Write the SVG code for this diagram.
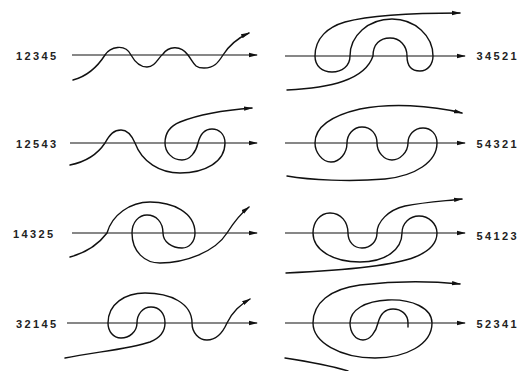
<svg xmlns="http://www.w3.org/2000/svg" width="519" height="371" viewBox="0 0 519 371">
<style>
.c{fill:none;stroke:#111;stroke-width:1.4;stroke-linecap:round;stroke-linejoin:round}
.ax{fill:none;stroke:#111;stroke-width:1.2}
.l{font-family:"Liberation Sans",Arial,sans-serif;font-size:11px;font-weight:bold;fill:#222;letter-spacing:2.4px}
</style>
<defs>
<marker id="ar" viewBox="0 0 9 6" refX="8" refY="3" markerWidth="9" markerHeight="6" markerUnits="userSpaceOnUse" orient="auto">
<path d="M0,0.8 L9,3 L0,5.2 z" fill="#111"/>
</marker>
</defs>
<rect width="519" height="371" fill="#fff"/>

<g id="p12345">
<line class="ax" x1="72" y1="55" x2="257" y2="55" marker-end="url(#ar)"/>
<path class="c" marker-end="url(#ar)" d="M73,80 C88,76 98,66 105,55 C110,47 125,43 131,55 C136,64 142,67 147,67 C155,67 158,58 163,54 C168,47 180,44 188,55 C194,63 194,68 204,68 C214,68 218,63 223,55 C230,44 238,38 249,33"/>
<text class="l" x="16" y="60">12345</text>
</g>

<g id="p34521">
<line class="ax" x1="285" y1="56" x2="465" y2="56" marker-end="url(#ar)"/>
<path class="c" marker-end="url(#ar)" d="M287,90 C330,88 365,80 373,56 C373,44 380,38 390,38 C400,38 407,46 407,56 C407,66 412,71 420,71 C428,71 433,64 433,56 C433,36 415,19 392,19 C368,19 350,36 350,56 C350,66 342,72 332,72 C322,72 315,66 315,56 C315,38 328,27 345,22 C375,14 420,13 460,13"/>
<text class="l" x="519" y="60" text-anchor="end">34521</text>
</g>

<g id="p12543">
<line class="ax" x1="70" y1="143" x2="257" y2="143" marker-end="url(#ar)"/>
<path class="c" marker-end="url(#ar)" d="M70,165 C85,162 97,155 105,143 C110,134 114,130 121,130 C128,130 132,136 135,143 C142,162 160,173 180,173 C205,173 225,162 225,143 C225,134 219,129 212,129 C204,129 200,135 198,143 C196,152 190,160 182,160 C172,160 165,152 165,143 C165,132 170,126 180,122 C200,114 225,110 252,108"/>
<text class="l" x="16" y="148">12543</text>
</g>

<g id="p54321">
<line class="ax" x1="285" y1="143" x2="465" y2="143" marker-end="url(#ar)"/>
<path class="c" marker-end="url(#ar)" d="M287,176 C310,180 350,182 385,179 C415,176 437,162 437,143 C437,134 431,128 423,128 C414,128 408,135 408,143 C408,152 400,160 392,160 C384,160 377,152 377,143 C377,134 371,127 362,127 C353,127 347,135 347,143 C347,153 340,162 331,162 C322,162 315,152 315,143 C315,128 330,116 360,109 C390,103 430,105 462,113"/>
<text class="l" x="519" y="148" text-anchor="end">54321</text>
</g>

<g id="p14325">
<line class="ax" x1="72" y1="233" x2="257" y2="233" marker-end="url(#ar)"/>
<path class="c" marker-end="url(#ar)" d="M70,257 C85,253 98,245 107,233 C112,215 130,202 150,202 C172,202 195,212 195,233 C195,242 189,248 182,248 C172,248 163,242 163,233 C163,222 156,215 147,215 C139,215 132,222 132,233 C132,252 145,263 160,263 C185,263 215,252 227,233 C234,222 240,214 249,207"/>
<text class="l" x="13" y="238">14325</text>
</g>

<g id="p54123">
<line class="ax" x1="285" y1="233" x2="465" y2="233" marker-end="url(#ar)"/>
<path class="c" marker-end="url(#ar)" d="M286,273 C330,271 390,267 415,257 C430,251 437,243 437,233 C437,224 429,216 419,216 C410,216 402,223 402,233 C402,250 385,262 360,262 C333,262 313,250 313,233 C313,222 320,213 330,213 C341,213 348,222 348,233 C348,242 354,248 362,248 C371,248 377,241 377,233 C377,222 388,210 405,206 C425,202 445,201 462,199"/>
<text class="l" x="519" y="240" text-anchor="end">54123</text>
</g>

<g id="p32145">
<line class="ax" x1="67" y1="323" x2="257" y2="323" marker-end="url(#ar)"/>
<path class="c" marker-end="url(#ar)" d="M65,358 C95,352 130,349 150,342 C160,338 165,332 165,323 C165,313 159,307 151,307 C143,307 137,314 137,323 C137,332 129,338 121,338 C113,338 108,331 108,323 C108,304 125,293 145,293 C170,293 192,303 192,323 C192,333 199,340 207,340 C216,340 223,332 227,323 C233,311 240,305 250,299"/>
<text class="l" x="16" y="328">32145</text>
</g>

<g id="p52341">
<line class="ax" x1="285" y1="323" x2="465" y2="323" marker-end="url(#ar)"/>
<path class="c" marker-end="url(#ar)" d="M408,327 C408,326 408,325 408,323 C408,314 401,309 393,309 C385,309 380,315 378,323 C376,332 370,340 363,340 C355,340 350,332 350,323 C350,310 365,301 388,300 C412,299 432,308 432,323 C432,345 405,358 375,358 C340,358 313,342 313,323 C313,303 330,289 360,285 C395,281 430,281 460,284"/>
<path class="c" d="M285,358 C305,361 325,364 348,371"/>
<text class="l" x="519" y="328" text-anchor="end">52341</text>
</g>
</svg>
